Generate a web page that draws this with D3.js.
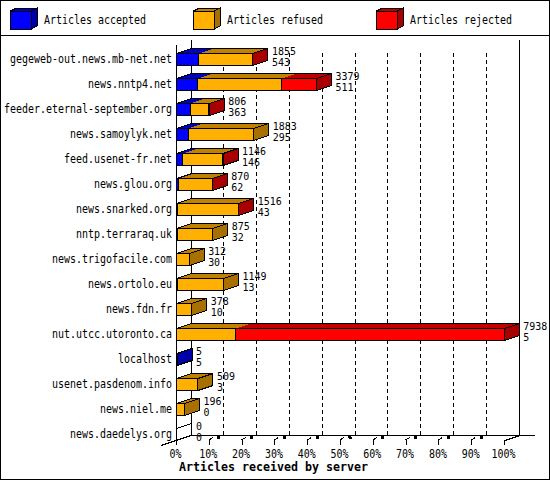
<!DOCTYPE html>
<html><head><meta charset="utf-8">
<script src="https://cdn.jsdelivr.net/npm/d3@7/dist/d3.min.js"></script>
<style>html,body{margin:0;padding:0;background:#fff}svg{display:block}</style>
</head><body><svg id="c" width="550" height="480"></svg>
<script>
const servers=["gegeweb-out.news.mb-net.net","news.nntp4.net","feeder.eternal-september.org","news.samoylyk.net","feed.usenet-fr.net","news.glou.org","news.snarked.org","nntp.terraraq.uk","news.trigofacile.com","news.ortolo.eu","news.fdn.fr","nut.utcc.utoronto.ca","localhost","usenet.pasdenom.info","news.niel.me","news.daedelys.org"];
const labelTop=[1855,3379,806,1883,1146,870,1516,875,312,1149,378,7938,5,509,196,0];
const labelBottom=[543,511,363,295,146,62,43,32,30,13,10,5,5,3,0,0];
const accepted=[6.6,6.3,4.1,3.5,1.75,0.5,0.1,0.1,0,0.1,0,0,0.02,0,0,0];
const refused=[16.5,25.6,5.65,19.9,12.25,10.2,18.7,10.8,3.7,14.1,4.5,17.9,0,6.4,2.3,0];
const rejected=[0.05,10.6,0.05,0,0.05,0.05,0.05,0,0,0,0,81.9,0,0,0,0];
const ticks=[0,10,20,30,40,50,60,70,80,90,100];
const legendNames=["Articles accepted","Articles refused","Articles rejected"];
const xTitle="Articles received by server";
const frontColors=["#0000ff","#ffb000","#ff0000"];
const topColors=["#0000c0","#c08000","#c00000"];
const sideColors=["#0000a8","#a87000","#a80000"];

const svg=d3.select("#c").attr("shape-rendering","crispEdges");
const mono="'DejaVu Sans Mono',monospace";
const x=d3.scaleLinear().domain([0,100]).range([177,505]);
const y=d3.scaleBand().domain(servers).range([40,440]);
const dx=15,dy=5,bh=12;
const poly=p=>p.map(q=>q.join(",")).join(" ");
function txt(sel,cw,fs){ // fits a text run to the fixed cell width of the original bitmap font
  sel.attr("font-family",mono).attr("font-size",fs||12).attr("fill","#000")
     .attr("lengthAdjust","spacingAndGlyphs")
     .attr("textLength",function(){return this.textContent.length*(cw||6);});
  return sel;
}
function hl(a,b,c,d,dash){
  const l=svg.append("line").attr("x1",a).attr("y1",b).attr("x2",c).attr("y2",d).attr("stroke","#000");
  if(dash) l.attr("stroke-dasharray",dash);
  return l;
}
// frame
svg.append("rect").attr("x",.5).attr("y",.5).attr("width",549).attr("height",479).attr("fill","#fff").attr("stroke","#000");
hl(0,35.5,550,35.5);
// legend
const legX=d3.scalePoint().domain(legendNames).range([10.5,376.5]);
legendNames.forEach((n,i)=>{
  const a=legX(n),w=20.5,t=11,h=18,ox=6,oy=3;
  svg.append("polygon").attr("points",poly([[a,t],[a+ox,t-oy],[a+w+ox,t-oy],[a+w,t]])).attr("fill",topColors[i]).attr("stroke","#000");
  svg.append("polygon").attr("points",poly([[a+w,t],[a+w+ox,t-oy],[a+w+ox,t+h-oy],[a+w,t+h]])).attr("fill",sideColors[i]).attr("stroke","#000");
  svg.append("rect").attr("x",a).attr("y",t).attr("width",w).attr("height",h).attr("fill",frontColors[i]).attr("stroke","#000");
  txt(svg.append("text").attr("x",a+33.5).attr("y",24).text(n));
});
// back walls and grid
const floorY=y.range()[1], backY=floorY-dy;
ticks.forEach(t=>{
  const px=x(t);
  if(t===0){
    hl(px+dx-.5,40,px+dx-.5,backY);
  }else if(t===100){
    hl(px+dx-.5,40,px+dx-.5,backY);
  }else{
    hl(px+dx-1,backY,px+dx-1,50,"4,3");
    hl(px-1,floorY,px+3,floorY-2.5);
    hl(px+7.5,floorY-2.5,px+10.5,floorY-3).attr("stroke-width",3);
  }
});
hl(191,backY+.5,535,backY+.5);
hl(161,445.5,191,435.5);
hl(x(100),440.5,x(100)+dx,435.5);
// left wall
hl(176.5,45,176.5,445);
// axes
const ax=svg.append("g").attr("transform",`translate(0,${floorY})`)
  .call(d3.axisBottom(x).tickValues(ticks).tickFormat(d=>d+"%").tickSize(5));
ax.select(".domain").remove();
ax.selectAll("line").attr("stroke","#000").attr("transform","translate(-1,0)");
ax.selectAll("text").attr("x",-2).attr("y",9).call(txt);
const ay=svg.append("g").attr("transform","translate(177,0)")
  .call(d3.axisLeft(y).tickSize(0).tickPadding(5));
ay.select(".domain").remove();
ay.selectAll("text").attr("y",6.5).call(txt);
// bars
servers.forEach((s,i)=>{
  const vals=[accepted[i],refused[i],rejected[i]];
  const bot=y(s)+y.bandwidth()+.5, top=bot-bh;
  let cum=0,lastIdx=-1;
  const segs=[];
  vals.forEach((v,k)=>{ if(v>0){segs.push({k,a:cum,b:cum+v});cum+=v;lastIdx=k;} });
  const end=x(cum);
  if(segs.length===0){
    const a=x(0)-.5;
    hl(a,top,a+dx,top-dy);
    hl(a,bot,a+dx,bot-dy);
  }else{
    const a0=x(0)-.5;
    segs.forEach(g=>{
      const a=x(g.a)-(g.a===0?.5:0),b=x(g.b);
      svg.append("polygon").attr("points",poly([[a,top],[a+dx,top-dy],[b+dx,top-dy],[b,top]])).attr("fill",topColors[g.k]);
    });
    svg.append("polygon").attr("points",poly([[a0,top],[a0+dx,top-dy],[end+dx,top-dy],[end,top]])).attr("fill","none").attr("stroke","#000");
    svg.append("polygon").attr("points",poly([[end,top],[end+dx,top-dy],[end+dx,bot-dy],[end,bot]])).attr("fill",sideColors[lastIdx]).attr("stroke","#000");
    segs.forEach(g=>{
      const a=x(g.a)-(g.a===0?.5:0),b=x(g.b);
      svg.append("rect").attr("x",a).attr("y",top).attr("width",b-a).attr("height",bh).attr("fill",frontColors[g.k]).attr("stroke","#000");
    });
  }
  const lx=end+dx+4;
  txt(svg.append("text").attr("x",lx).attr("y",bot-11).text(labelTop[i]),6,10);
  txt(svg.append("text").attr("x",lx).attr("y",bot).text(labelBottom[i]),6,10);
});
// title
txt(svg.append("text").attr("x",179).attr("y",471).attr("font-weight","bold").text(xTitle),7);
</script>
</body></html>
